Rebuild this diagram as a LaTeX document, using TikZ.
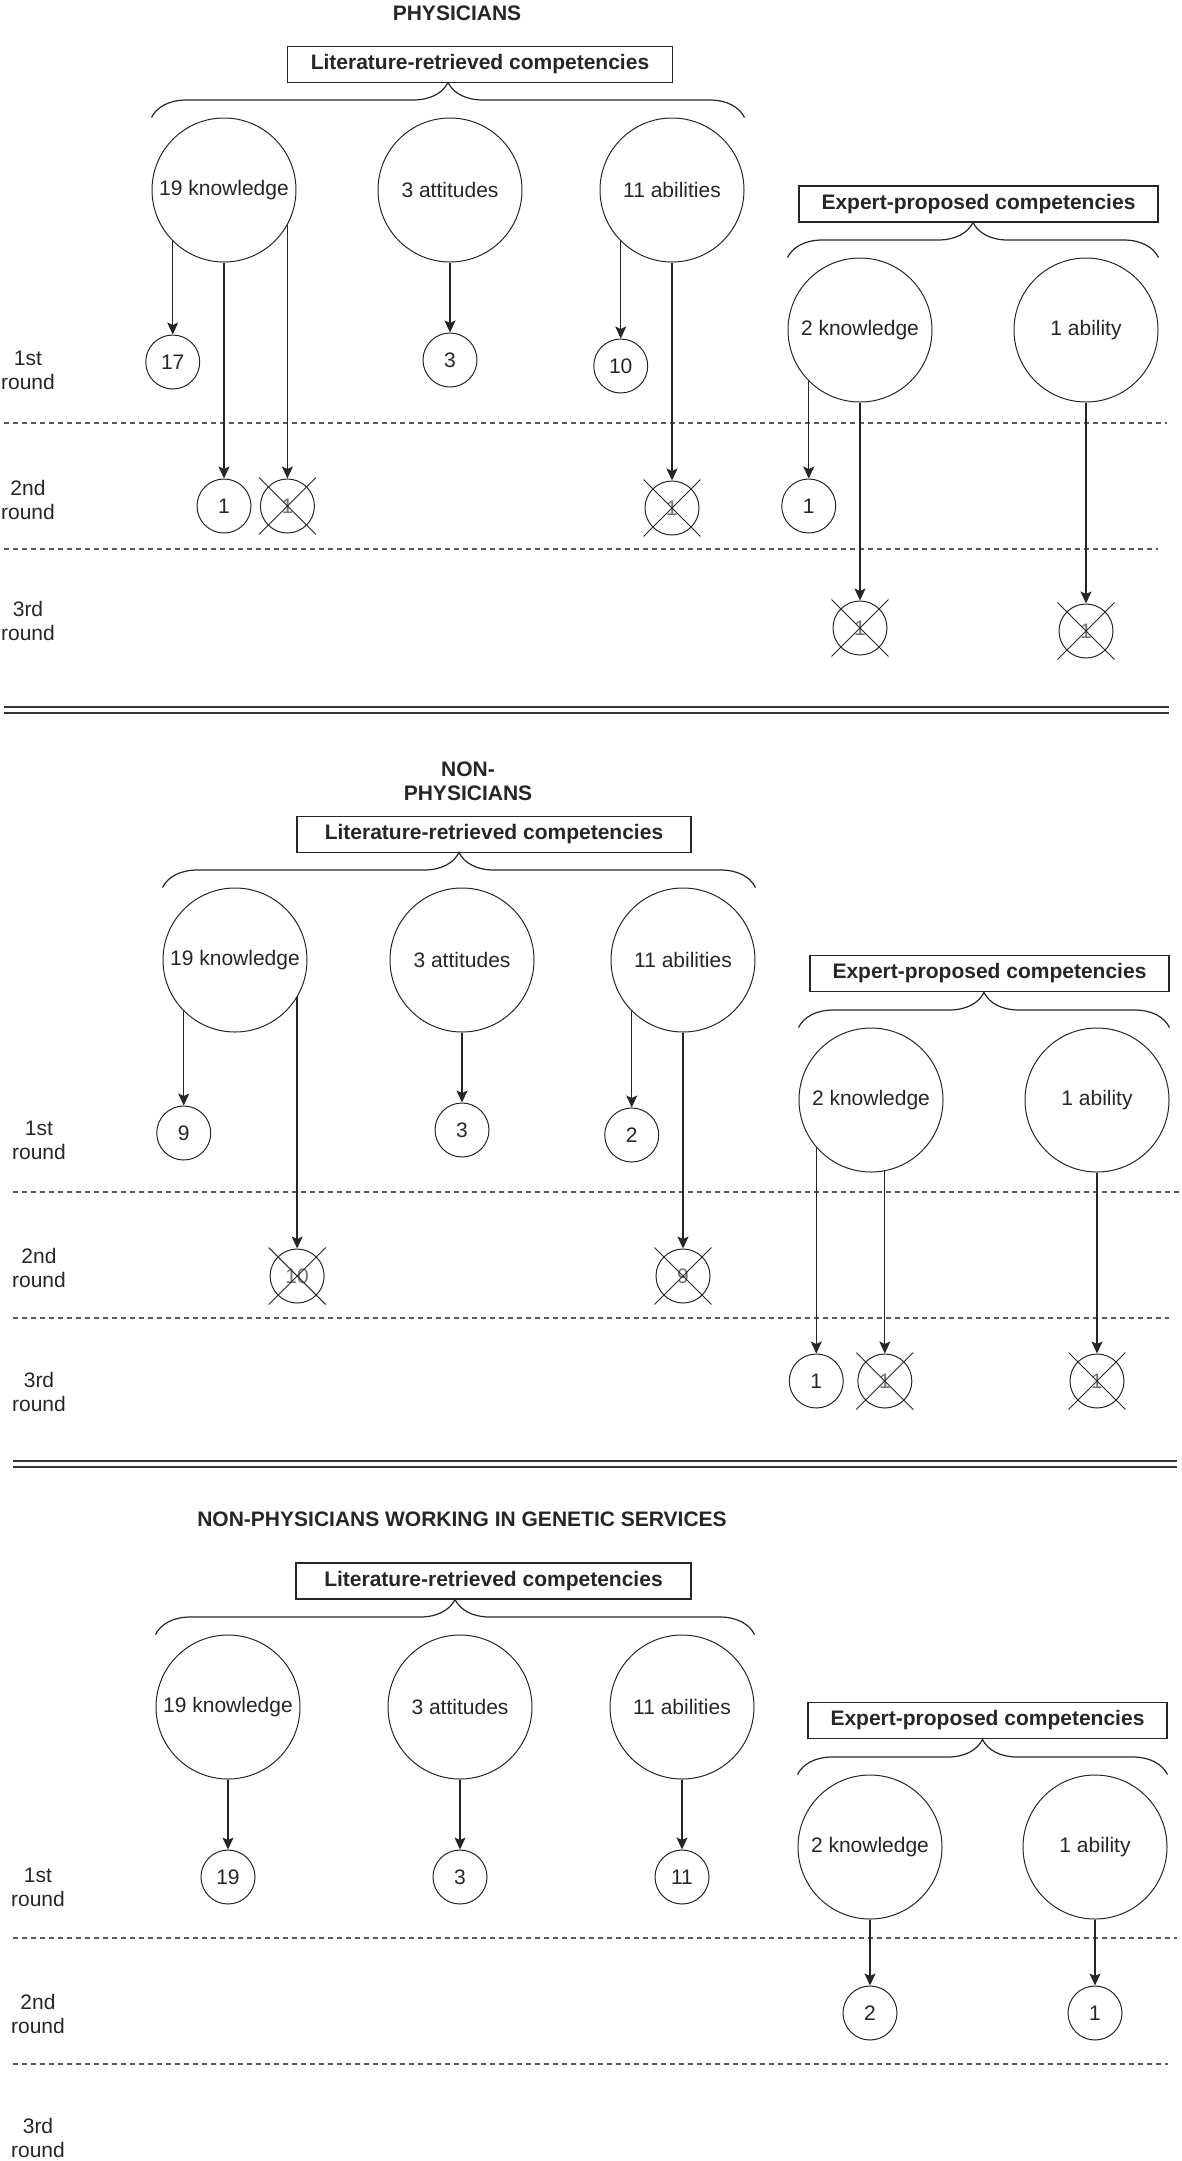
\documentclass[tikz,border=0pt]{standalone}
\usepackage{fontspec}
\setmainfont{Liberation Sans}
\usetikzlibrary{arrows.meta}
\usetikzlibrary{positioning}
\usetikzlibrary{shapes.misc}
\usetikzlibrary{decorations.pathreplacing}

\tikzset{
  txt/.style={font=\fontsize{21}{24}\selectfont, text=black!85},
  grp/.style={txt, circle, draw=black!85, line width=1pt, minimum size=144pt, inner sep=0pt},
  num/.style={txt, circle, draw=black!85, line width=1pt, minimum size=54pt, inner sep=0pt},
  drop/.style={num, text=black!55},
  xmark/.style={cross out, draw=black!85, line width=0.9pt, minimum size=56pt, inner sep=0pt},
  head/.style={txt, font=\fontsize{21}{24}\selectfont\bfseries, align=center},
  cbox/.style={txt, font=\fontsize{21}{24}\selectfont\bfseries, draw=black!85, line width=1.3pt, minimum height=36pt, inner sep=0pt},
  rnd/.style={txt, align=center},
  arr/.style={line width=1.3pt, black!85, -{Stealth[length=12pt,width=11pt,inset=2.5pt]}},
  brc/.style={decorate, decoration={brace, amplitude=35pt}, line width=1.2pt, black!85},
  sep/.style={line width=1.3pt, black!65, dash pattern=on 5pt off 4pt},
  dbl/.style={double=white, double distance=4pt, line width=2pt, black!80}
}

\begin{document}
\begin{tikzpicture}[x=1pt, y=-1pt]
    \useasboundingbox (0,0) rectangle (1181,2161);

    % physicians
    \node[head] (pt) at (457,13) {PHYSICIANS};
    \node[cbox, minimum width=385pt] (pl) at (480,64.5) {Literature-retrieved competencies};
    \node[grp] (pk) at (224,190) {19 knowledge};
    \node[grp] (pat) at (450,190) {3 attitudes};
    \node[grp] (pab) at (672,190) {11 abilities};
    \draw[brc] (pk.west |- pk.north) -- (pab.east |- pab.north);
    \node[cbox, minimum width=359pt] (pe) at (978.5,204) {Expert-proposed competencies};
    \node[grp] (pek) at (860,330) {2 knowledge};
    \node[grp] (pea) at (1086,330) {1 ability};
    \draw[brc] (pek.west |- pek.north) -- (pea.east |- pea.north);
    \foreach \n/\y/\t in {1/370/1st, 2/500/2nd, 3/621/3rd}
        \node[rnd] (pr\n) at (28,\y) {\t\\round};
    \draw[sep] (4,423) -- (1167,423);
    \draw[sep] (4,549) -- (1158,549);
    \node[num] (pk1) at (pk.225 |- 0,362) {17};
    \node[num] (pat1) at (pat.south |- 0,360) {3};
    \node[num] (pab1) at (pab.225 |- 0,366) {10};
    \node[num] (pk2) at (pk.south |- 0,506) {1};
    \node[drop] (pk3) at (pk.331 |- 0,506) {1};
    \node[drop] (pab2) at (pab.south |- 0,508) {1};
    \node[num] (pek1) at (pek.225 |- 0,506) {1};
    \node[drop] (pek2) at (pek.south |- 0,628) {1};
    \node[drop] (pea1) at (pea.south |- 0,631) {1};
    \foreach \a/\b in {pk.225/pk1, pat.south/pat1, pab.225/pab1, pk.south/pk2, pk.331/pk3,
        pab.south/pab2, pek.225/pek1, pek.south/pek2, pea.south/pea1}
        \draw[arr] (\a) -- (\b.north);
    \draw[dbl] (4,710) -- (1169,710);

    % non-physicians
    \node[head] (nt) at (468,781) {NON-\\PHYSICIANS};
    \node[cbox, minimum width=394pt] (nl) at (494,834.5) {Literature-retrieved competencies};
    \node[grp] (nk) at (235,960) {19 knowledge};
    \node[grp] (nat) at (462,960) {3 attitudes};
    \node[grp] (nab) at (683,960) {11 abilities};
    \draw[brc] (nk.west |- nk.north) -- (nab.east |- nab.north);
    \node[cbox, minimum width=359pt] (ne) at (989.5,973.5) {Expert-proposed competencies};
    \node[grp] (nek) at (871,1100) {2 knowledge};
    \node[grp] (nea) at (1097,1100) {1 ability};
    \draw[brc] (nek.west |- nek.north) -- (nea.east |- nea.north);
    \foreach \n/\y/\t in {1/1140/1st, 2/1268/2nd, 3/1392/3rd}
        \node[rnd] (nr\n) at (39,\y) {\t\\round};
    \draw[sep] (13,1192) -- (1180,1192);
    \draw[sep] (13,1318) -- (1169,1318);
    \node[num] (nk1) at (nk.225 |- 0,1133) {9};
    \node[num] (nat1) at (nat.south |- 0,1130) {3};
    \node[num] (nab1) at (nab.225 |- 0,1135) {2};
    \node[drop] (nk2) at (nk.329 |- 0,1276) {10};
    \node[drop] (nab2) at (nab.south |- 0,1276) {9};
    \node[num] (nek1) at (nek.221 |- 0,1381) {1};
    \node[drop] (nek2) at (nek.281 |- 0,1381) {1};
    \node[drop] (nea1) at (nea.south |- 0,1381) {1};
    \foreach \a/\b in {nk.225/nk1, nat.south/nat1, nab.225/nab1, nk.329/nk2, nab.south/nab2,
        nek.221/nek1, nek.281/nek2, nea.south/nea1}
        \draw[arr] (\a) -- (\b.north);
    \draw[dbl] (13,1464) -- (1177,1464);

    % non-physicians in genetic services
    \node[head] (gt) at (462,1519) {NON-PHYSICIANS WORKING IN GENETIC SERVICES};
    \node[cbox, minimum width=395pt] (gl) at (493.5,1581) {Literature-retrieved competencies};
    \node[grp] (gk) at (228,1707) {19 knowledge};
    \node[grp] (gat) at (460,1707) {3 attitudes};
    \node[grp] (gab) at (682,1707) {11 abilities};
    \draw[brc] (gk.west |- gk.north) -- (gab.east |- gab.north);
    \node[cbox, minimum width=359pt] (ge) at (987.5,1720.5) {Expert-proposed competencies};
    \node[grp] (gek) at (870,1847) {2 knowledge};
    \node[grp] (gea) at (1095,1847) {1 ability};
    \draw[brc] (gek.west |- gek.north) -- (gea.east |- gea.north);
    \foreach \n/\y/\t in {1/1887/1st, 2/2014/2nd, 3/2138/3rd}
        \node[rnd] (gr\n) at (38,\y) {\t\\round};
    \draw[sep] (13,1938) -- (1177,1938);
    \draw[sep] (13,2064) -- (1168,2064);
    \node[num] (gk1) at (gk.south |- 0,1877) {19};
    \node[num] (gat1) at (gat.south |- 0,1877) {3};
    \node[num] (gab1) at (gab.south |- 0,1877) {11};
    \node[num] (gek1) at (gek.south |- 0,2013) {2};
    \node[num] (gea1) at (gea.south |- 0,2013) {1};
    \foreach \a/\b in {gk/gk1, gat/gat1, gab/gab1, gek/gek1, gea/gea1}
        \draw[arr] (\a.south) -- (\b.north);

    \foreach \n in {pk3, pab2, pek2, pea1, nk2, nab2, nek2, nea1}
        \node[xmark] at (\n) {};
\end{tikzpicture}
\end{document}
